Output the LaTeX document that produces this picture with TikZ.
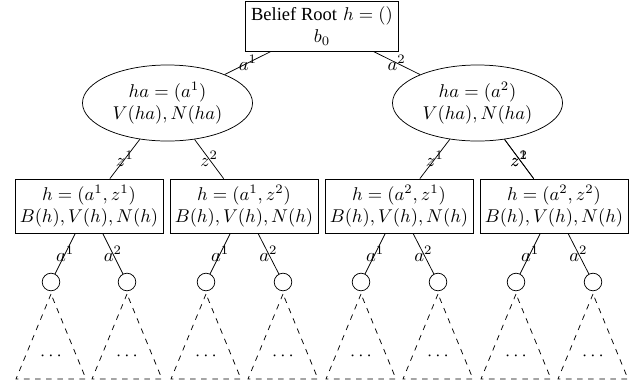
\documentclass[tikz,border=0pt]{standalone}
\usepackage{fontspec}
\newfontfamily\tms{Liberation Serif}
\usetikzlibrary{shapes.geometric}
\begin{document}
\begin{tikzpicture}[x=0.5405pt,y=-0.5405pt,
  box/.style={draw,rectangle,align=center,inner sep=3pt},
  hbox/.style={draw,rectangle,align=center,minimum width=80pt,minimum height=29.2pt,inner sep=1pt},
  ell/.style={draw,ellipse,align=center,minimum width=91.9pt,minimum height=41.1pt,inner sep=0pt},
  leaf/.style={draw,circle,minimum size=9.5pt,inner sep=0pt},
  lbl/.style={inner sep=1pt},
  tri/.style={dashed}]
\useasboundingbox (0,0) rectangle (643,389);
\node[box] (root) at (322,26) {{\tms Belief Root} $h=()$\\ $b_0$};
\node[ell] (e1) at (167.5,103) {$ha=(a^1)$\\ $V(ha),N(ha)$};
\node[ell] (e2) at (477.5,103) {$ha=(a^2)$\\ $V(ha),N(ha)$};
\node[hbox] (h11) at (89,206) {$h=(a^1,z^1)$\\ $B(h),V(h),N(h)$};
\node[hbox] (h12) at (244,206) {$h=(a^1,z^2)$\\ $B(h),V(h),N(h)$};
\node[hbox] (h21) at (399,206) {$h=(a^2,z^1)$\\ $B(h),V(h),N(h)$};
\node[hbox] (h22) at (554,206) {$h=(a^2,z^2)$\\ $B(h),V(h),N(h)$};
\draw (root) -- node[lbl] {$a^1$} (e1);
\draw (root) -- node[lbl] {$a^2$} (e2);
\draw (e1) -- node[lbl] {$z^1$} (h11);
\draw (e1) -- node[lbl] {$z^2$} (h12);
\draw (e2) -- node[lbl] {$z^1$} (h21);
\draw (e2) -- node[lbl] {$z^2$} (h22);
\draw (e2) -- node[lbl] {$z^1$} (h22);
\foreach \p/\x/\n in {h11/51/1,h11/127/2,h12/206/3,h12/283/4,h21/361/5,h21/438/6,h22/516/7,h22/593/8}{
  \node[leaf] (l\n) at (\x,282) {};
  \coordinate (t\n) at (\x,294);
  \coordinate (bl\n) at (\x-35,379);
  \coordinate (br\n) at (\x+35,379);
  \node (d\n) at (\x,356) {$\cdots$};
  \draw[tri] (t\n) -- (bl\n) -- (br\n) -- cycle;
}
\draw (h11) -- node[lbl] {$a^1$} (l1);
\draw (h11) -- node[lbl] {$a^2$} (l2);
\draw (h12) -- node[lbl] {$a^1$} (l3);
\draw (h12) -- node[lbl] {$a^2$} (l4);
\draw (h21) -- node[lbl] {$a^1$} (l5);
\draw (h21) -- node[lbl] {$a^2$} (l6);
\draw (h22) -- node[lbl] {$a^1$} (l7);
\draw (h22) -- node[lbl] {$a^2$} (l8);
\end{tikzpicture}
\end{document}
